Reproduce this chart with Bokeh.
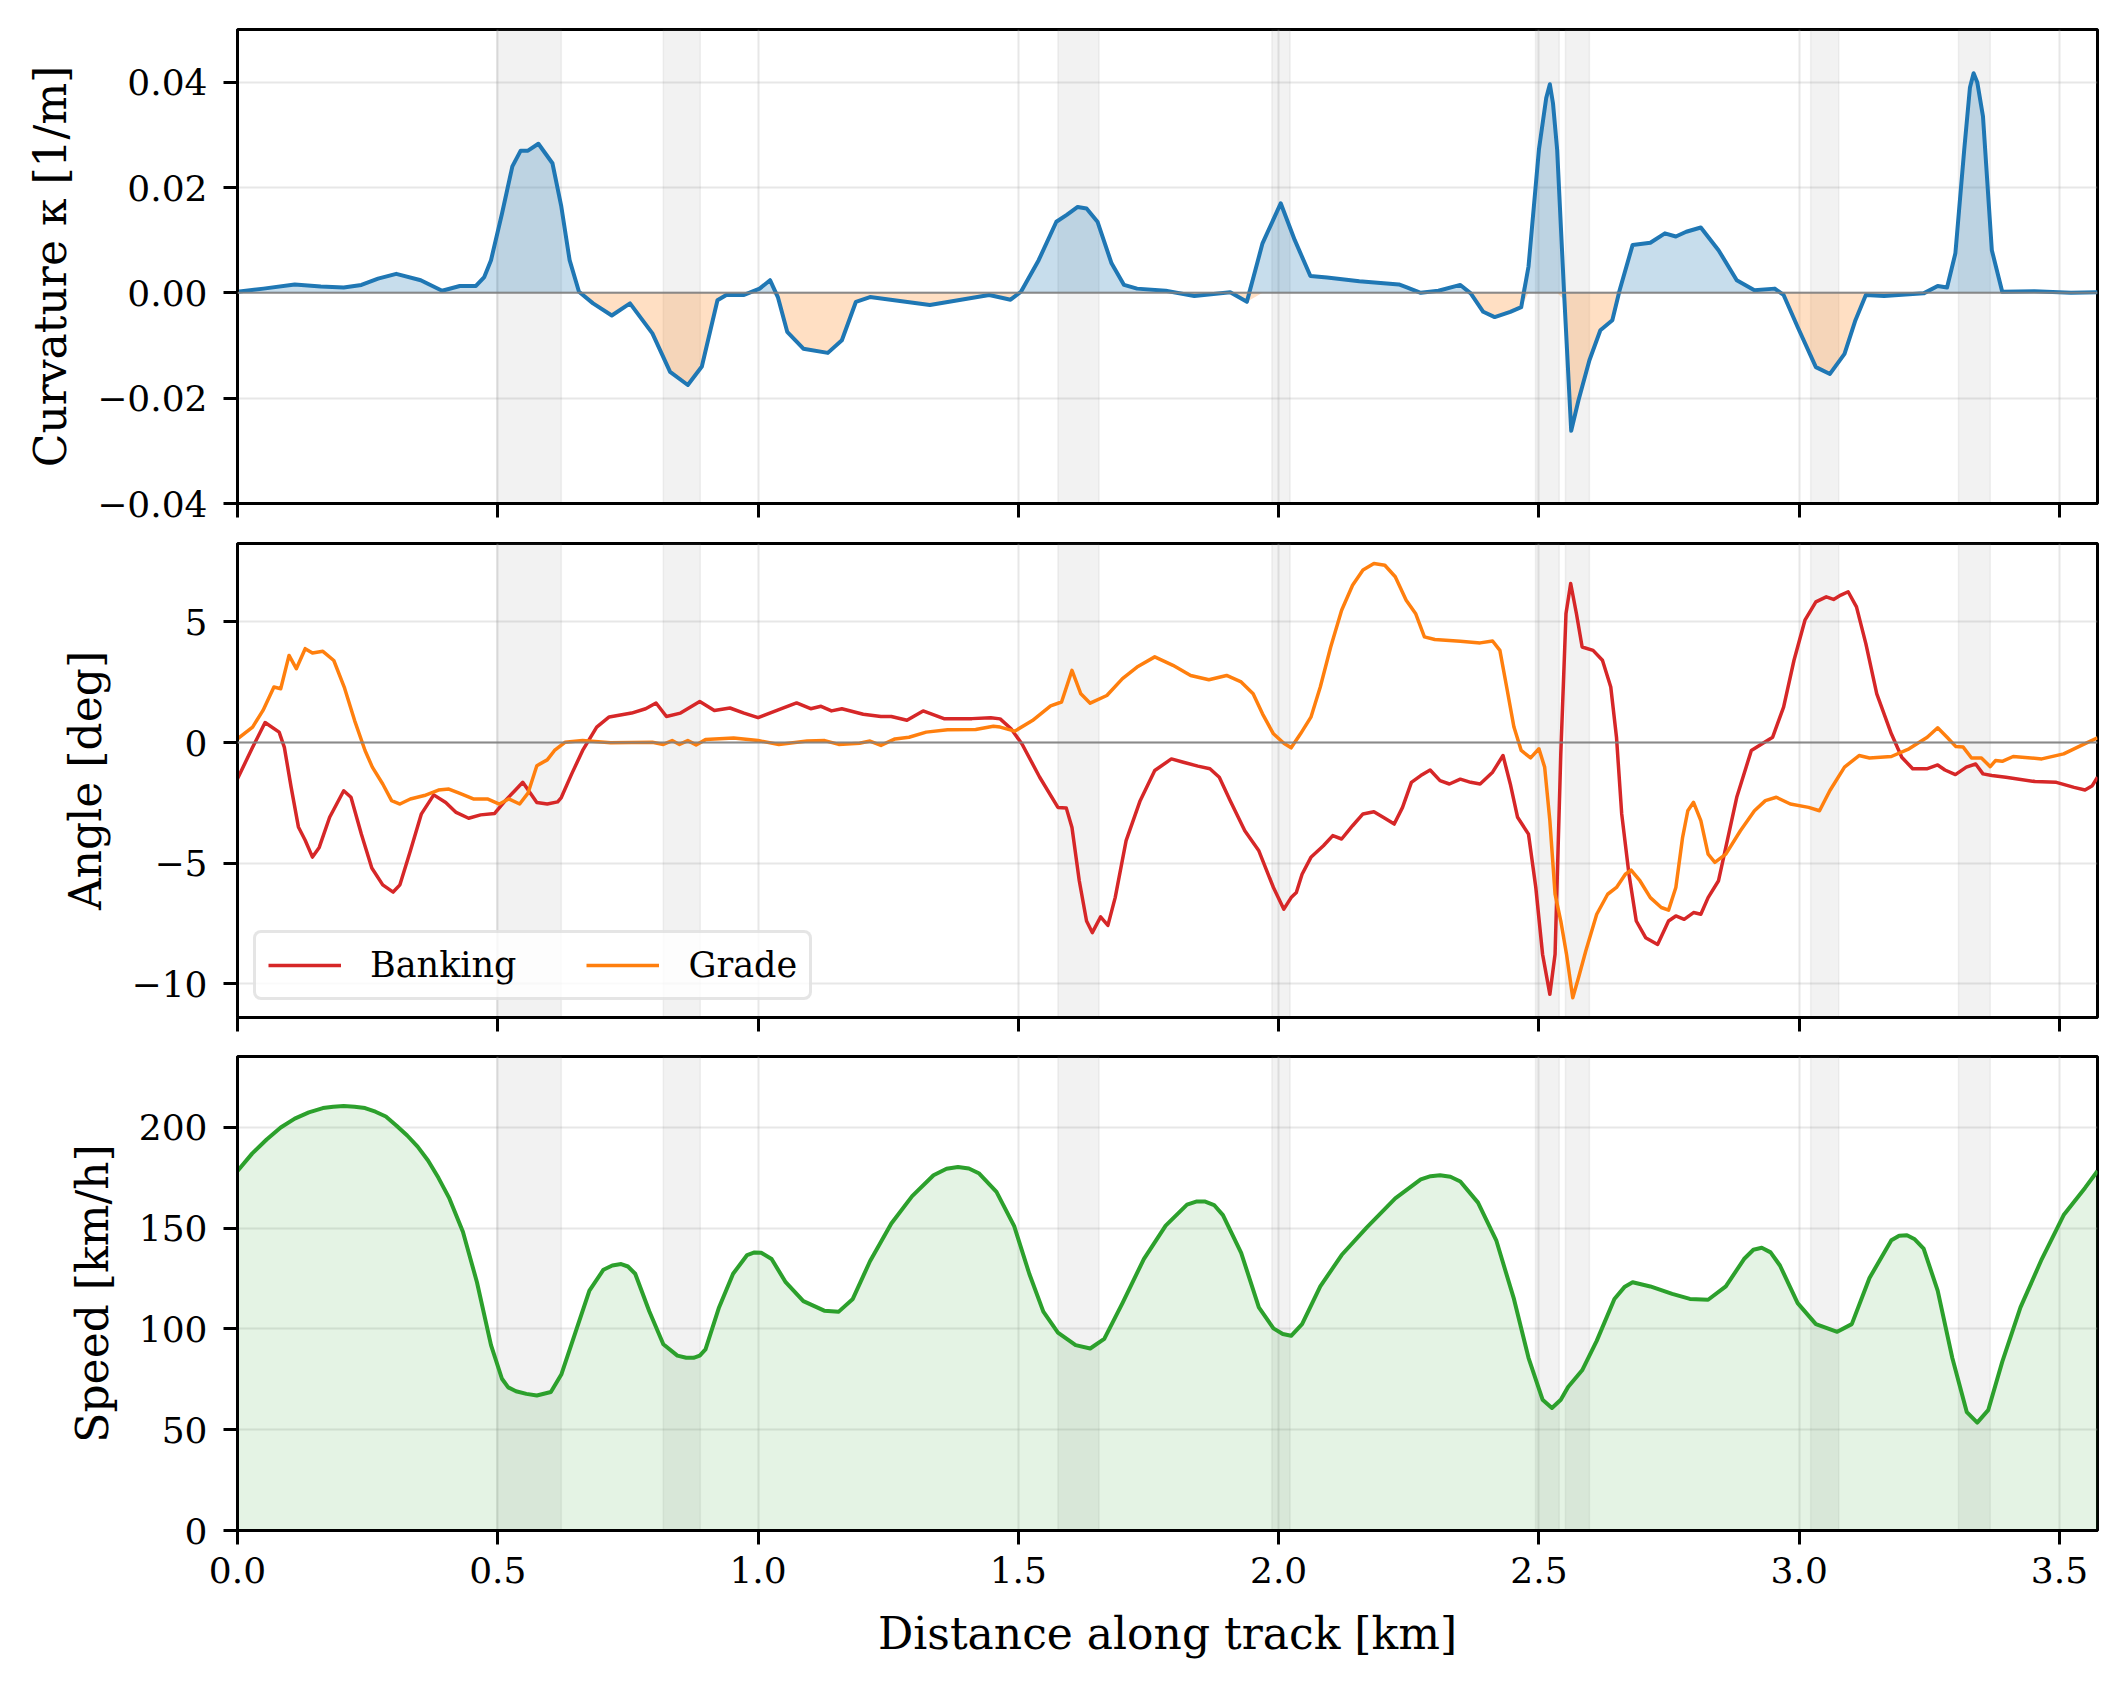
import numpy as np
from bokeh.plotting import figure
from bokeh.layouts import column
from bokeh.models import (Range1d, FixedTicker, CustomJSTickFormatter, BoxAnnotation,
                          Span, Legend, LegendItem)
from bokeh.embed import file_html
from bokeh.resources import INLINE

# ---------------------------------------------------------------- data
track_length_km = 3.573

# corner sections (start / end of each shaded band, km)
band_start = [0.498, 0.818, 1.576, 1.987, 2.4935, 2.551, 3.022, 3.306]
band_end = [0.622, 0.889, 1.655, 2.022, 2.539, 2.597, 3.076, 3.367]

# curvature along the track
kappa_km = [0.0, 0.05, 0.11, 0.16, 0.204, 0.238, 0.27, 0.305, 0.352, 0.393, 0.427, 0.458,
            0.474, 0.487, 0.508, 0.528, 0.544, 0.558, 0.578, 0.605, 0.622, 0.638, 0.656,
            0.683, 0.719, 0.754, 0.797, 0.831, 0.865, 0.892, 0.922, 0.939, 0.973, 1.003,
            1.023, 1.038, 1.056, 1.087, 1.134, 1.161, 1.188, 1.215, 1.33, 1.444, 1.485,
            1.505, 1.539, 1.573, 1.593, 1.614, 1.631, 1.652, 1.679, 1.703, 1.728, 1.783,
            1.838, 1.907, 1.939, 1.969, 2.004, 2.031, 2.061, 2.093, 2.155, 2.231, 2.245,
            2.273, 2.307, 2.349, 2.369, 2.393, 2.415, 2.445, 2.466, 2.48, 2.5, 2.514,
            2.521, 2.527, 2.535, 2.549, 2.562, 2.576, 2.597, 2.618, 2.641, 2.655, 2.68,
            2.714, 2.742, 2.763, 2.783, 2.811, 2.845, 2.88, 2.914, 2.953, 2.97, 2.997,
            3.032, 3.059, 3.087, 3.108, 3.128, 3.163, 3.239, 3.266, 3.284, 3.3, 3.317,
            3.328, 3.335, 3.342, 3.353, 3.37, 3.39, 3.452, 3.522, 3.573]
kappa = [0.0002, 0.0008, 0.0016, 0.0012, 0.001, 0.0015, 0.0027, 0.0036, 0.0024, 0.0004,
         0.0013, 0.0013, 0.003, 0.0062, 0.015, 0.024, 0.027, 0.027, 0.0283, 0.0246, 0.0164,
         0.0062, 0.0002, -0.002, -0.0043, -0.002, -0.0077, -0.015, -0.0175, -0.014,
         -0.0014, -0.0004, -0.0004, 0.0008, 0.0024, -0.0008, -0.0074, -0.0106, -0.0114,
         -0.009, -0.0017, -0.0008, -0.0023, -0.0004, -0.0013, 0.0002, 0.0062, 0.0135,
         0.0148, 0.0163, 0.016, 0.0135, 0.0056, 0.0015, 0.0008, 0.0004, -0.0006, 0.0001,
         -0.0017, 0.0094, 0.017, 0.01, 0.0032, 0.0029, 0.0022, 0.0016, 0.0011, 0.0,
         0.0004, 0.0015, -0.0001, -0.0036, -0.0046, -0.0036, -0.0027, 0.005, 0.0272,
         0.037, 0.0396, 0.036, 0.0272, -0.0014, -0.0262, -0.0204, -0.0128, -0.0071,
         -0.0052, 0.0005, 0.0091, 0.0095, 0.0113, 0.0107, 0.0116, 0.0124, 0.0081, 0.0024,
         0.0005, 0.0008, -0.0004, -0.0065, -0.0141, -0.0154, -0.0116, -0.0052, -0.0004,
         -0.0006, -0.0001, 0.0013, 0.001, 0.0075, 0.0272, 0.039, 0.0417, 0.04, 0.0335,
         0.0081, 0.0002, 0.0003, 0.0, 0.0001]

# banking angle
bank_km = [0.0, 0.029, 0.053, 0.08, 0.09, 0.103, 0.117, 0.13, 0.144, 0.157, 0.177, 0.204,
           0.218, 0.238, 0.258, 0.279, 0.299, 0.312, 0.332, 0.353, 0.377, 0.4, 0.42, 0.444,
           0.467, 0.494, 0.514, 0.534, 0.548, 0.557, 0.575, 0.595, 0.615, 0.622, 0.642,
           0.663, 0.69, 0.714, 0.757, 0.784, 0.804, 0.824, 0.851, 0.888, 0.916, 0.946,
           0.973, 1.0, 1.04, 1.074, 1.101, 1.121, 1.141, 1.161, 1.202, 1.236, 1.256, 1.286,
           1.317, 1.357, 1.411, 1.447, 1.465, 1.486, 1.507, 1.541, 1.576, 1.592, 1.603,
           1.617, 1.631, 1.642, 1.658, 1.672, 1.686, 1.707, 1.734, 1.762, 1.794, 1.817,
           1.845, 1.868, 1.886, 1.907, 1.935, 1.962, 1.99, 2.01, 2.024, 2.034, 2.045,
           2.062, 2.086, 2.104, 2.121, 2.142, 2.162, 2.183, 2.204, 2.222, 2.238, 2.255,
           2.273, 2.291, 2.31, 2.328, 2.349, 2.369, 2.387, 2.411, 2.431, 2.445, 2.459,
           2.48, 2.494, 2.507, 2.521, 2.531, 2.542, 2.552, 2.561, 2.572, 2.583, 2.604,
           2.622, 2.638, 2.649, 2.659, 2.673, 2.687, 2.705, 2.728, 2.749, 2.763, 2.779,
           2.797, 2.811, 2.825, 2.845, 2.859, 2.88, 2.908, 2.928, 2.949, 2.97, 2.99, 3.011,
           3.032, 3.052, 3.066, 3.08, 3.094, 3.11, 3.128, 3.149, 3.177, 3.197, 3.218,
           3.245, 3.266, 3.28, 3.3, 3.321, 3.339, 3.353, 3.37, 3.397, 3.453, 3.494, 3.528,
           3.549, 3.563, 3.573]
bank_deg = [-1.5, -0.2, 0.83, 0.43, -0.2, -1.85, -3.5, -4.05, -4.75, -4.35, -3.1, -2.0,
            -2.27, -3.8, -5.2, -5.9, -6.2, -5.9, -4.5, -2.97, -2.17, -2.49, -2.9, -3.14,
            -3.0, -2.94, -2.42, -1.97, -1.65, -1.93, -2.49, -2.55, -2.46, -2.28, -1.3,
            -0.33, 0.64, 1.06, 1.22, 1.4, 1.64, 1.08, 1.22, 1.7, 1.33, 1.43, 1.22, 1.03,
            1.36, 1.64, 1.4, 1.5, 1.31, 1.4, 1.17, 1.08, 1.08, 0.92, 1.31, 0.99, 0.99,
            1.03, 0.98, 0.57, -0.06, -1.44, -2.69, -2.71, -3.52, -5.73, -7.4, -7.88,
            -7.23, -7.58, -6.43, -4.07, -2.41, -1.16, -0.68, -0.82, -0.98, -1.09, -1.44,
            -2.41, -3.66, -4.49, -6.01, -6.91, -6.43, -6.22, -5.46, -4.76, -4.28, -3.86,
            -4.0, -3.45, -2.96, -2.87, -3.14, -3.38, -2.69, -1.65, -1.37, -1.14, -1.58,
            -1.72, -1.52, -1.65, -1.72, -1.23, -0.54, -1.72, -3.1, -3.8, -6.01, -8.78,
            -10.44, -8.78, -0.47, 5.35, 6.59, 5.35, 3.96, 3.82, 3.41, 2.3, 0.22, -2.96,
            -5.46, -7.4, -8.09, -8.37, -7.4, -7.19, -7.33, -7.05, -7.12, -6.43, -5.73,
            -4.35, -2.27, -0.33, -0.06, 0.22, 1.47, 3.41, 5.07, 5.83, 6.04, 5.93, 6.11,
            6.25, 5.62, 4.1, 2.02, 0.36, -0.61, -1.09, -1.09, -0.93, -1.14, -1.33, -1.02,
            -0.89, -1.3, -1.37, -1.44, -1.62, -1.65, -1.86, -1.97, -1.79, -1.44]

# road grade
grade_km = [0.0, 0.029, 0.049, 0.07, 0.083, 0.099, 0.113, 0.13, 0.144, 0.164, 0.185, 0.205,
            0.225, 0.245, 0.259, 0.279, 0.296, 0.312, 0.332, 0.359, 0.386, 0.406, 0.426,
            0.453, 0.48, 0.503, 0.521, 0.542, 0.558, 0.575, 0.595, 0.609, 0.629, 0.663,
            0.717, 0.797, 0.818, 0.835, 0.849, 0.865, 0.881, 0.899, 0.953, 1.0, 1.04,
            1.094, 1.128, 1.155, 1.195, 1.215, 1.236, 1.263, 1.29, 1.323, 1.364, 1.418,
            1.452, 1.465, 1.493, 1.527, 1.562, 1.583, 1.603, 1.62, 1.638, 1.67, 1.7, 1.728,
            1.762, 1.797, 1.831, 1.866, 1.9, 1.928, 1.951, 1.969, 1.99, 2.01, 2.024, 2.042,
            2.062, 2.08, 2.1, 2.121, 2.142, 2.162, 2.183, 2.204, 2.224, 2.245, 2.263, 2.28,
            2.3, 2.349, 2.387, 2.411, 2.425, 2.438, 2.452, 2.466, 2.484, 2.5, 2.511, 2.521,
            2.531, 2.542, 2.553, 2.565, 2.576, 2.59, 2.611, 2.632, 2.649, 2.666, 2.677,
            2.694, 2.714, 2.735, 2.749, 2.763, 2.776, 2.786, 2.797, 2.811, 2.825, 2.838,
            2.859, 2.887, 2.914, 2.935, 2.956, 2.983, 3.018, 3.039, 3.059, 3.087, 3.115,
            3.135, 3.177, 3.211, 3.246, 3.266, 3.284, 3.301, 3.315, 3.331, 3.35, 3.367,
            3.377, 3.39, 3.411, 3.466, 3.508, 3.542, 3.573]
grade_deg = [0.15, 0.64, 1.33, 2.3, 2.23, 3.61, 3.06, 3.89, 3.71, 3.78, 3.4, 2.3, 0.91,
             -0.33, -1.02, -1.72, -2.41, -2.55, -2.34, -2.2, -1.97, -1.93, -2.1, -2.34,
             -2.34, -2.55, -2.34, -2.55, -2.1, -0.96, -0.72, -0.33, 0.01, 0.08, -0.01,
             0.01, -0.08, 0.08, -0.08, 0.08, -0.1, 0.12, 0.19, 0.08, -0.08, 0.06, 0.08,
             -0.08, -0.03, 0.06, -0.12, 0.15, 0.22, 0.43, 0.53, 0.54, 0.67, 0.64, 0.47,
             0.91, 1.52, 1.68, 2.99, 2.02, 1.63, 1.95, 2.65, 3.13, 3.55, 3.2, 2.78, 2.6,
             2.78, 2.51, 2.02, 1.19, 0.36, -0.03, -0.22, 0.36, 1.05, 2.3, 3.96, 5.48, 6.52,
             7.15, 7.42, 7.35, 6.87, 5.9, 5.35, 4.38, 4.27, 4.2, 4.13, 4.21, 3.82, 2.3,
             0.64, -0.33, -0.64, -0.26, -1.02, -3.24, -6.29, -7.4, -8.78, -10.58, -9.75,
             -8.64, -7.12, -6.29, -6.01, -5.46, -5.29, -5.73, -6.43, -6.84, -6.95, -6.01,
             -3.93, -2.83, -2.48, -3.24, -4.63, -4.97, -4.63, -3.66, -2.83, -2.41, -2.27,
             -2.55, -2.69, -2.83, -1.99, -1.02, -0.54, -0.64, -0.58, -0.26, 0.22, 0.61,
             0.22, -0.17, -0.19, -0.64, -0.64, -1.0, -0.75, -0.78, -0.58, -0.68, -0.47,
             -0.12, 0.19]

# speed profile
speed_km = [0.0, 0.028, 0.056, 0.083, 0.11, 0.137, 0.164, 0.184, 0.204, 0.225, 0.245,
            0.265, 0.285, 0.305, 0.326, 0.346, 0.366, 0.386, 0.407, 0.433, 0.46, 0.487,
            0.508, 0.52, 0.535, 0.555, 0.575, 0.602, 0.622, 0.649, 0.676, 0.703, 0.72,
            0.737, 0.75, 0.764, 0.791, 0.818, 0.845, 0.862, 0.876, 0.888, 0.899, 0.925,
            0.952, 0.979, 0.993, 1.006, 1.026, 1.053, 1.087, 1.127, 1.155, 1.182, 1.215,
            1.256, 1.296, 1.337, 1.362, 1.384, 1.405, 1.424, 1.458, 1.492, 1.521, 1.548,
            1.576, 1.61, 1.638, 1.665, 1.7, 1.741, 1.783, 1.824, 1.843, 1.859, 1.876,
            1.893, 1.928, 1.962, 1.99, 2.008, 2.024, 2.045, 2.08, 2.121, 2.169, 2.224,
            2.273, 2.292, 2.31, 2.33, 2.349, 2.383, 2.418, 2.452, 2.48, 2.507, 2.525,
            2.542, 2.556, 2.583, 2.611, 2.645, 2.665, 2.68, 2.714, 2.756, 2.79, 2.825,
            2.859, 2.894, 2.912, 2.928, 2.945, 2.963, 2.997, 3.032, 3.073, 3.101, 3.135,
            3.177, 3.192, 3.207, 3.222, 3.239, 3.266, 3.294, 3.322, 3.342, 3.363, 3.39,
            3.425, 3.466, 3.508, 3.549, 3.573]
speed_kmh = [178.4, 187.0, 194.0, 200.0, 204.4, 207.5, 209.6, 210.3, 210.6, 210.3, 209.6,
             207.8, 205.4, 201.0, 196.0, 190.5, 183.6, 175.0, 164.8, 148.2, 123.2, 92.0,
             75.3, 71.0, 69.1, 67.8, 67.0, 68.7, 77.4, 98.2, 119.0, 129.4, 131.5, 132.2,
             131.0, 127.4, 108.8, 92.4, 86.8, 85.7, 85.7, 86.8, 89.9, 110.7, 127.4, 136.7,
             138.0, 137.8, 134.7, 123.2, 113.8, 109.1, 108.6, 114.9, 133.6, 152.3, 165.9,
             176.3, 179.5, 180.4, 179.6, 177.3, 168.0, 151.0, 127.4, 108.6, 98.2, 92.0,
             90.3, 95.1, 112.8, 134.7, 151.3, 161.7, 163.3, 163.2, 161.5, 156.5, 137.8,
             110.7, 100.3, 97.5, 96.6, 102.4, 121.1, 136.7, 150.3, 164.8, 174.2, 175.8,
             176.3, 175.5, 173.2, 162.7, 144.0, 114.9, 85.7, 64.9, 60.8, 64.9, 71.2, 79.5,
             94.1, 114.9, 121.0, 123.2, 121.1, 117.4, 114.9, 114.5, 121.1, 134.7, 139.3,
             140.3, 138.0, 131.5, 112.8, 102.4, 98.6, 102.4, 125.3, 144.0, 146.3, 146.5,
             144.5, 139.9, 119.0, 85.7, 58.7, 53.5, 59.7, 83.7, 110.7, 134.7, 156.5, 170.0,
             178.4]

# tick positions
x_ticks = [0.0, 0.5, 1.0, 1.5, 2.0, 2.5, 3.0, 3.5]
kappa_ticks = [-0.04, -0.02, 0.0, 0.02, 0.04]
angle_ticks = [-10, -5, 0, 5]
speed_ticks = [0, 50, 100, 150, 200]

# ---------------------------------------------------------------- styling
FONT = "DejaVu Serif"
W = 2126
BLUE, ORANGE, RED, GREEN = "#1f77b4", "#ff7f0e", "#d62728", "#2ca02c"

x_range = Range1d(0, track_length_km)


def signed_fmt(decimals):
    return CustomJSTickFormatter(code=(
        "const s = Math.abs(tick).toFixed(%d);"
        "return (tick < -1e-12 ? '\u2212' : '') + s;" % decimals))


def make_panel(height, top, bottom, y_range, yticks, ydec, ylabel, x_labels):
    p = figure(width=W, height=height, x_range=x_range, y_range=y_range,
               output_backend="svg", toolbar_location=None,
               min_border_left=237, min_border_right=29,
               min_border_top=top, min_border_bottom=bottom)
    p.background_fill_color = "white"
    p.border_fill_color = "white"
    p.outline_line_color = "black"
    p.outline_line_width = 3
    p.outline_line_alpha = 1.0

    for ax in (p.xaxis, p.yaxis):
        ax.axis_line_width = 3
        ax.axis_line_color = "black"
        ax.major_tick_line_width = 3
        ax.major_tick_line_color = "black"
        ax.major_tick_out = 14
        ax.major_tick_in = 0
        ax.minor_tick_out = 0
        ax.minor_tick_in = 0
        ax.major_label_text_font = FONT
        ax.major_label_text_font_size = "36px"
        ax.major_label_text_color = "black"
        ax.axis_label_text_font = FONT
        ax.axis_label_text_font_size = "44px"
        ax.axis_label_text_font_style = "normal"
        ax.axis_label_text_color = "black"

    p.xaxis.ticker = FixedTicker(ticks=x_ticks)
    p.yaxis.ticker = FixedTicker(ticks=yticks)
    p.yaxis.formatter = signed_fmt(ydec)
    p.yaxis.major_label_standoff = 16
    p.yaxis.axis_label = ylabel
    p.yaxis.axis_label_standoff = 18

    if x_labels:
        p.xaxis.formatter = signed_fmt(1)
        p.xaxis.major_label_standoff = 12
        p.xaxis.axis_label = "Distance along track [km]"
        p.xaxis.axis_label_standoff = 22
    else:
        p.xaxis.formatter = CustomJSTickFormatter(code="return '';")
        p.xaxis.major_label_text_font_size = "1px"
        p.xaxis.major_label_standoff = 0

    p.grid.grid_line_color = "#b0b0b0"
    p.grid.grid_line_alpha = 0.3
    p.grid.grid_line_width = 2

    for s, e in zip(band_start, band_end):
        p.add_layout(BoxAnnotation(left=s, right=e, fill_color="gray", fill_alpha=0.1,
                                   line_color="gray", line_alpha=0.1, line_width=1.5,
                                   level="underlay"))
    return p


# ---------------------------------------------------------------- curvature
p1 = make_panel(523, 29, 20, Range1d(-0.04, 0.05), kappa_ticks, 2,
                "Curvature κ [1/m]", False)
k = np.array(kappa)
p1.varea(x=kappa_km, y1=0, y2=np.maximum(k, 0), fill_color=BLUE, fill_alpha=0.25)
p1.varea(x=kappa_km, y1=0, y2=np.minimum(k, 0), fill_color=ORANGE, fill_alpha=0.25)
p1.add_layout(Span(location=0, dimension="width", line_color="gray", line_width=2,
                   line_alpha=0.9))
p1.line(kappa_km, kappa, line_color=BLUE, line_width=4, line_join="round")

# ---------------------------------------------------------------- angles
p2 = make_panel(513, 20, 19, Range1d(-11.4, 8.25), angle_ticks, 0, "Angle [deg]", False)
p2.add_layout(Span(location=0, dimension="width", line_color="gray", line_width=2,
                   line_alpha=0.9))
r_bank = p2.line(bank_km, bank_deg, line_color=RED, line_width=3.5, line_join="round")
r_grade = p2.line(grade_km, grade_deg, line_color=ORANGE, line_width=3.5,
                  line_join="round")

legend = Legend(items=[LegendItem(label="Banking", renderers=[r_bank]),
                       LegendItem(label="Grade", renderers=[r_grade])],
                orientation="horizontal", location=(16, 17), margin=0, padding=12,
                spacing=70, glyph_width=73, glyph_height=40, label_height=40,
                label_standoff=29, label_text_font=FONT, label_text_font_size="35px",
                label_text_color="black", border_line_color="#cccccc",
                border_line_width=3, background_fill_color="white",
                background_fill_alpha=0.8)
if hasattr(legend, "border_radius"):
    legend.border_radius = 8
p2.add_layout(legend)

# ---------------------------------------------------------------- speed
p3 = make_panel(653, 20, 159, Range1d(0, 235.2), speed_ticks, 0, "Speed [km/h]", True)
p3.varea(x=speed_km, y1=0, y2=speed_kmh, fill_color=GREEN, fill_alpha=0.13)
p3.line(speed_km, speed_kmh, line_color=GREEN, line_width=4, line_join="round")

layout = column(p1, p2, p3, spacing=0)

with open("out.html", "w") as f:
    f.write(file_html(layout, INLINE))
